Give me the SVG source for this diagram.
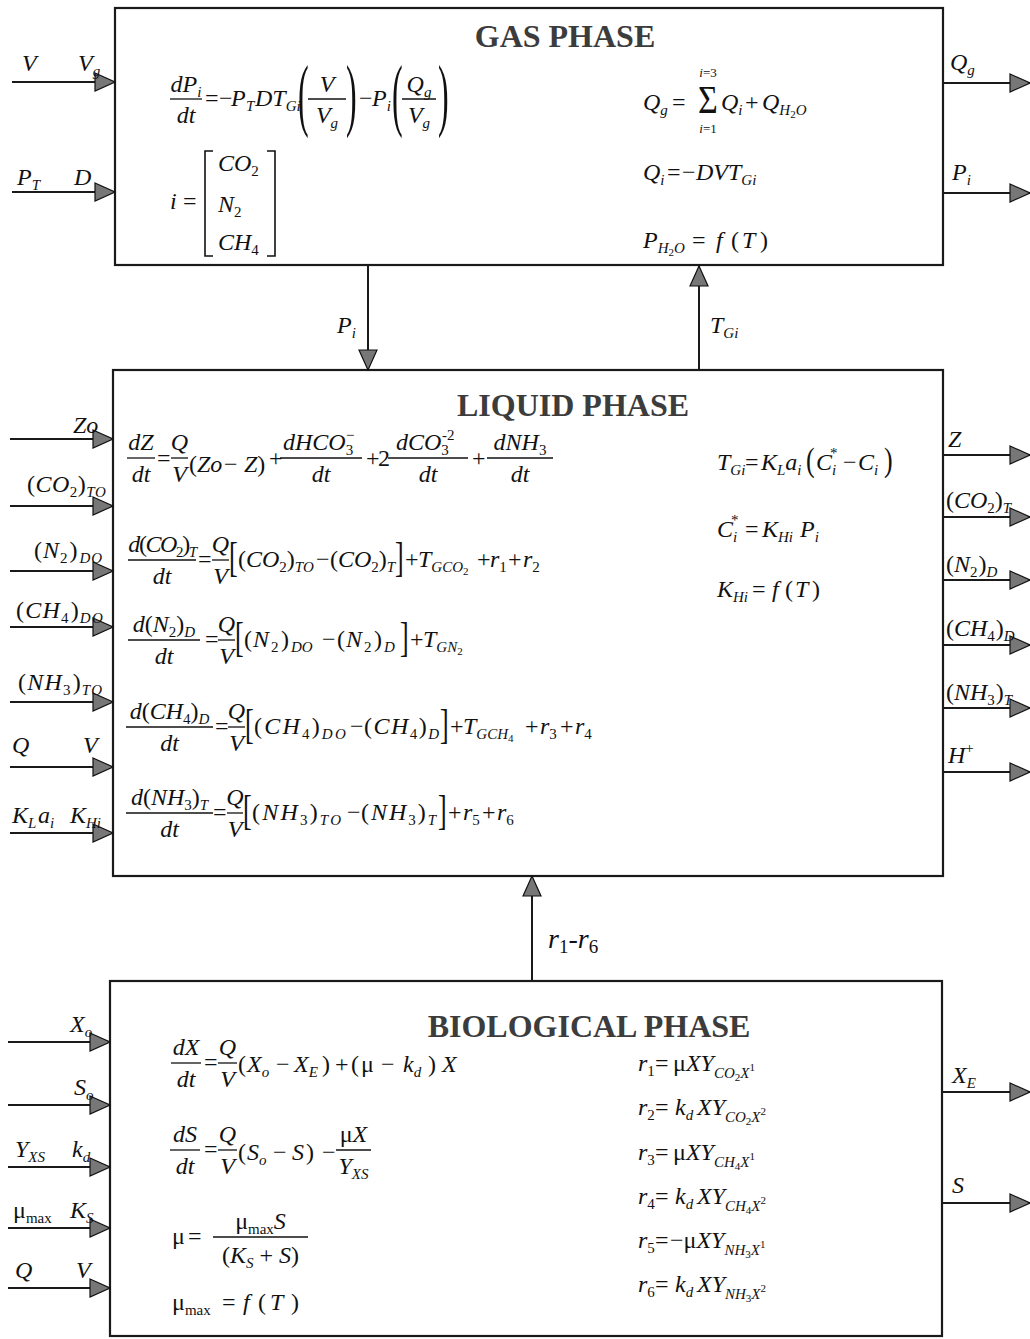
<svg xmlns="http://www.w3.org/2000/svg" width="1030" height="1339" viewBox="0 0 1030 1339">
<style>
text{font-family:"Liberation Serif","Times New Roman",serif;fill:#111}
.e{font-style:italic;font-size:24px}
.u{font-style:normal}
.s{font-size:15px}
.ss{font-size:11px}
.ti{font-weight:bold;font-size:32px;fill:#3c3c3c;font-style:normal}
.box{fill:#fff;stroke:#1a1a1a;stroke-width:2.2}
.fr{stroke:#111;stroke-width:1.3}
.cn{stroke:#1a1a1a;stroke-width:2;fill:none}
.br{fill:none;stroke:#111;stroke-width:1.6}
</style>
<defs>
<marker id="ah" markerWidth="22" markerHeight="20" refX="21" refY="10" orient="auto" markerUnits="userSpaceOnUse"><path d="M1,1 L21,10 L1,19 Z" fill="#777" stroke="#111" stroke-width="1.2"/></marker>
</defs>
<rect width="1030" height="1339" fill="#fff"/>

<g id="gas-phase">
<rect class="box" x="115" y="8" width="828" height="257"/>
<text class="ti" x="565" y="47" text-anchor="middle">GAS PHASE</text>
<line class="fr" x1="170" y1="99" x2="202" y2="99"/>
<text class="e" x="186" y="92" text-anchor="middle">dP<tspan class="s" dy="5">i</tspan></text>
<text class="e" x="186" y="123" text-anchor="middle">dt</text>
<text class="e" y="106"><tspan class="u" x="205">=</tspan><tspan class="u" x="219">−</tspan><tspan x="231">P</tspan><tspan class="s" x="246" dy="5">T</tspan><tspan x="255" dy="-5">DT</tspan><tspan class="s" dy="5">Gi</tspan></text>
<text class="u" font-size="32" transform="translate(298,121) scale(1,2.5)">(</text>
<line class="fr" x1="308" y1="99" x2="346" y2="99"/>
<text class="e" x="327" y="92" text-anchor="middle">V</text>
<text class="e" x="327" y="123" text-anchor="middle">V<tspan class="s" dy="5">g</tspan></text>
<text class="u" font-size="32" transform="translate(346,121) scale(1,2.5)">)</text>
<text class="e" y="106"><tspan class="u" x="359">−</tspan><tspan x="372">P</tspan><tspan class="s" dy="5">i</tspan></text>
<text class="u" font-size="32" transform="translate(392,121) scale(1,2.5)">(</text>
<line class="fr" x1="402" y1="99" x2="436" y2="99"/>
<text class="e" x="419" y="92" text-anchor="middle">Q<tspan class="s" dy="5">g</tspan></text>
<text class="e" x="419" y="123" text-anchor="middle">V<tspan class="s" dy="5">g</tspan></text>
<text class="u" font-size="32" transform="translate(438,121) scale(1,2.5)">)</text>
<text class="e" y="209"><tspan x="170">i</tspan><tspan class="u" x="183">=</tspan></text>
<path class="br" d="M213,151 H205 V256 H213 M267,151 H275 V256 H267"/>
<text class="e" x="218" y="171">CO<tspan class="u s" dy="5">2</tspan></text>
<text class="e" x="218" y="212">N<tspan class="u s" dy="5">2</tspan></text>
<text class="e" x="218" y="250">CH<tspan class="u s" dy="5">4</tspan></text>
<text class="e" y="110"><tspan x="643">Q</tspan><tspan class="s" dy="5">g</tspan><tspan class="u" x="672" dy="-5">=</tspan></text>
<text class="u" font-size="34" transform="translate(698,113) scale(1,1.2)">Σ</text>
<text class="e" style="font-size:13px" x="708" y="77" text-anchor="middle">i<tspan class="u">=3</tspan></text>
<text class="e" style="font-size:13px" x="708" y="133" text-anchor="middle">i<tspan class="u">=1</tspan></text>
<text class="e" y="110"><tspan x="721">Q</tspan><tspan class="s" dy="5">i</tspan><tspan class="u" x="745" dy="-5">+</tspan><tspan x="762">Q</tspan><tspan class="s" dy="5">H</tspan><tspan class="u ss" dy="3">2</tspan><tspan class="s" dy="-3">O</tspan></text>
<text class="e" y="180"><tspan x="643">Q</tspan><tspan class="s" dy="5">i</tspan><tspan class="u" x="667" dy="-5">=</tspan><tspan class="u" x="682">−</tspan><tspan x="696">DVT</tspan><tspan class="s" dy="5">Gi</tspan></text>
<text class="e" y="248"><tspan x="643">P</tspan><tspan class="s" dy="5">H</tspan><tspan class="u ss" dy="3">2</tspan><tspan class="s" dy="-3">O</tspan><tspan class="u" x="692" dy="-5">=</tspan><tspan x="716">f</tspan><tspan class="u" x="731">(</tspan><tspan x="742">T</tspan><tspan class="u" x="760">)</tspan></text>
</g>

<g id="liquid-phase">
<rect class="box" x="113" y="370" width="830" height="506"/>
<text class="ti" x="573" y="416" text-anchor="middle">LIQUID PHASE</text>
<!-- row 1 -->
<line class="fr" x1="127" y1="458" x2="155" y2="458"/>
<text class="e" x="141" y="450" text-anchor="middle">dZ</text>
<text class="e" x="141" y="482" text-anchor="middle">dt</text>
<text class="e u" x="157" y="466">=</text>
<line class="fr" x1="171" y1="458" x2="188" y2="458"/>
<text class="e" x="179.5" y="450" text-anchor="middle">Q</text>
<text class="e" x="179.5" y="482" text-anchor="middle">V</text>
<text class="e" y="472"><tspan class="u" x="189">(</tspan>Zo<tspan class="u" x="224">−</tspan><tspan x="244">Z</tspan><tspan class="u">)</tspan></text>
<text class="e u" x="269" y="466">+</text>
<line class="fr" x1="280" y1="458" x2="362" y2="458"/>
<text class="e" y="450"><tspan x="283">dHCO</tspan><tspan class="u s" dy="5">3</tspan></text>
<text class="u s" x="346" y="440">−</text>
<text class="e" x="321" y="482" text-anchor="middle">dt</text>
<text class="e u" y="466"><tspan x="366">+</tspan><tspan x="378">2</tspan></text>
<line class="fr" x1="388" y1="458" x2="468" y2="458"/>
<text class="e" y="450"><tspan x="396">dCO</tspan><tspan class="u s" dy="5">3</tspan></text>
<text class="u s" x="442" y="440">-2</text>
<text class="e" x="428" y="482" text-anchor="middle">dt</text>
<text class="e u" x="472" y="466">+</text>
<line class="fr" x1="487" y1="458" x2="553" y2="458"/>
<text class="e" x="520" y="450" text-anchor="middle">dNH<tspan class="u s" dy="5">3</tspan></text>
<text class="e" x="520" y="482" text-anchor="middle">dt</text>
<!-- row 2 -->
<line class="fr" x1="128" y1="560" x2="196" y2="560"/>
<text class="e" x="162" y="552" text-anchor="middle" style="letter-spacing:-1.4px">d<tspan class="u">(</tspan>CO<tspan class="u s" dy="5">2</tspan><tspan class="u" dy="-5">)</tspan><tspan class="s" dy="5">T</tspan></text>
<text class="e" x="162" y="584" text-anchor="middle">dt</text>
<text class="e u" x="198" y="567">=</text>
<line class="fr" x1="212" y1="560" x2="229" y2="560"/>
<text class="e" x="220.5" y="552" text-anchor="middle">Q</text>
<text class="e" x="220.5" y="584" text-anchor="middle">V</text>
<text class="u" font-size="26" transform="translate(229,570.5) scale(1,1.6)">[</text>
<text class="e" x="238" y="567"><tspan class="u">(</tspan>CO<tspan class="u s" dy="5">2</tspan><tspan class="u" dy="-5">)</tspan><tspan class="s" dy="5">TO</tspan></text>
<text class="e u" x="316" y="567">−</text>
<text class="e" x="330" y="567"><tspan class="u">(</tspan>CO<tspan class="u s" dy="5">2</tspan><tspan class="u" dy="-5">)</tspan><tspan class="s" dy="5">T</tspan></text>
<text class="u" font-size="26" transform="translate(395,570.5) scale(1,1.6)">]</text>
<text class="e" y="567"><tspan class="u" x="405">+</tspan><tspan x="418">T</tspan><tspan class="s" dy="5">GCO</tspan><tspan class="u ss" dy="3">2</tspan><tspan class="u" x="477" dy="-8">+</tspan><tspan x="490">r</tspan><tspan class="u s" dy="5">1</tspan><tspan class="u" x="508" dy="-5">+</tspan><tspan x="523">r</tspan><tspan class="u s" dy="5">2</tspan></text>
<!-- row 3 -->
<line class="fr" x1="128" y1="640" x2="200" y2="640"/>
<text class="e" x="164" y="632" text-anchor="middle">d<tspan class="u">(</tspan>N<tspan class="u s" dy="5">2</tspan><tspan class="u" dy="-5">)</tspan><tspan class="s" dy="5">D</tspan></text>
<text class="e" x="164" y="664" text-anchor="middle">dt</text>
<text class="e u" x="205" y="647">=</text>
<line class="fr" x1="218" y1="640" x2="235" y2="640"/>
<text class="e" x="226.5" y="632" text-anchor="middle">Q</text>
<text class="e" x="226.5" y="664" text-anchor="middle">V</text>
<text class="u" font-size="26" transform="translate(235,650.5) scale(1,1.6)">[</text>
<text class="e" y="647"><tspan class="u" x="244">(</tspan><tspan x="253">N</tspan><tspan class="u s" x="271" dy="5">2</tspan><tspan class="u" x="281" dy="-5">)</tspan><tspan class="s" x="291" dy="5">DO</tspan></text>
<text class="e u" x="322" y="647">−</text>
<text class="e" y="647"><tspan class="u" x="337">(</tspan><tspan x="346">N</tspan><tspan class="u s" x="364" dy="5">2</tspan><tspan class="u" x="374" dy="-5">)</tspan><tspan class="s" x="384" dy="5">D</tspan></text>
<text class="u" font-size="26" transform="translate(400,650.5) scale(1,1.6)">]</text>
<text class="e" y="647"><tspan class="u" x="410">+</tspan><tspan x="423">T</tspan><tspan class="s" dy="5">GN</tspan><tspan class="u ss" dy="3">2</tspan></text>
<!-- row 4 -->
<line class="fr" x1="126" y1="727" x2="213" y2="727"/>
<text class="e" x="169.5" y="719" text-anchor="middle">d<tspan class="u">(</tspan>CH<tspan class="u s" dy="5">4</tspan><tspan class="u" dy="-5">)</tspan><tspan class="s" dy="5">D</tspan></text>
<text class="e" x="169.5" y="751" text-anchor="middle">dt</text>
<text class="e u" x="215" y="734">=</text>
<line class="fr" x1="228" y1="727" x2="245" y2="727"/>
<text class="e" x="236.5" y="719" text-anchor="middle">Q</text>
<text class="e" x="236.5" y="751" text-anchor="middle">V</text>
<text class="u" font-size="26" transform="translate(245,737.5) scale(1,1.6)">[</text>
<text class="e" x="254" y="734" style="letter-spacing:2.2px"><tspan class="u">(</tspan>CH<tspan class="u s" dy="5">4</tspan><tspan class="u" dy="-5">)</tspan><tspan class="s" dy="5">DO</tspan></text>
<text class="e u" x="350" y="734">−</text>
<text class="e" x="364" y="734" style="letter-spacing:1.5px"><tspan class="u">(</tspan>CH<tspan class="u s" dy="5">4</tspan><tspan class="u" dy="-5">)</tspan><tspan class="s" dy="5">D</tspan></text>
<text class="u" font-size="26" transform="translate(440,737.5) scale(1,1.6)">]</text>
<text class="e" y="734"><tspan class="u" x="450">+</tspan><tspan x="463">T</tspan><tspan class="s" dy="5">GCH</tspan><tspan class="u ss" dy="3">4</tspan><tspan class="u" x="525" dy="-8">+</tspan><tspan x="540">r</tspan><tspan class="u s" dy="5">3</tspan><tspan class="u" x="560" dy="-5">+</tspan><tspan x="575">r</tspan><tspan class="u s" dy="5">4</tspan></text>
<!-- row 5 -->
<line class="fr" x1="126" y1="813" x2="213" y2="813"/>
<text class="e" x="169.5" y="805" text-anchor="middle">d<tspan class="u">(</tspan>NH<tspan class="u s" dy="5">3</tspan><tspan class="u" dy="-5">)</tspan><tspan class="s" dy="5">T</tspan></text>
<text class="e" x="169.5" y="837" text-anchor="middle">dt</text>
<text class="e u" x="213" y="820">=</text>
<line class="fr" x1="227" y1="813" x2="243" y2="813"/>
<text class="e" x="235" y="805" text-anchor="middle">Q</text>
<text class="e" x="235" y="837" text-anchor="middle">V</text>
<text class="u" font-size="26" transform="translate(243,823.5) scale(1,1.6)">[</text>
<text class="e" x="252" y="820" style="letter-spacing:2.2px"><tspan class="u">(</tspan>NH<tspan class="u s" dy="5">3</tspan><tspan class="u" dy="-5">)</tspan><tspan class="s" dy="5">TO</tspan></text>
<text class="e u" x="347" y="820">−</text>
<text class="e" x="361" y="820" style="letter-spacing:2px"><tspan class="u">(</tspan>NH<tspan class="u s" dy="5">3</tspan><tspan class="u" dy="-5">)</tspan><tspan class="s" dy="5">T</tspan></text>
<text class="u" font-size="26" transform="translate(438,823.5) scale(1,1.6)">]</text>
<text class="e" y="820"><tspan class="u" x="448">+</tspan><tspan x="463">r</tspan><tspan class="u s" dy="5">5</tspan><tspan class="u" x="482" dy="-5">+</tspan><tspan x="497">r</tspan><tspan class="u s" dy="5">6</tspan></text>
<!-- right column -->
<text class="e" y="470"><tspan x="717">T</tspan><tspan class="s" dy="5">Gi</tspan><tspan class="u" x="745" dy="-5">=</tspan><tspan x="761">K</tspan><tspan class="s" dy="5">L</tspan><tspan dy="-5">a</tspan><tspan class="s" dy="5">i</tspan></text>
<text class="u" font-size="26" transform="translate(806,471) scale(1,1.32)">(</text>
<text class="e" y="470"><tspan x="816">C</tspan><tspan class="s" dy="5">i</tspan><tspan class="u" x="843" dy="-5">−</tspan><tspan x="858">C</tspan><tspan class="s" dy="5">i</tspan></text>
<text class="u s" x="830" y="458">*</text>
<text class="u" font-size="26" transform="translate(884,471) scale(1,1.32)">)</text>
<text class="e" y="537"><tspan x="717">C</tspan><tspan class="s" dy="5">i</tspan><tspan class="u" x="745" dy="-5">=</tspan><tspan x="762">K</tspan><tspan class="s" dy="5">Hi</tspan><tspan x="800" dy="-5">P</tspan><tspan class="s" dy="5">i</tspan></text>
<text class="u s" x="731" y="525">*</text>
<text class="e" y="597"><tspan x="717">K</tspan><tspan class="s" dy="5">Hi</tspan><tspan class="u" x="752" dy="-5">=</tspan><tspan x="772">f</tspan><tspan class="u" x="785">(</tspan><tspan x="795">T</tspan><tspan class="u" x="812">)</tspan></text>
</g>

<g id="biological-phase">
<rect class="box" x="110" y="981" width="832" height="355"/>
<text class="ti" x="589" y="1037" text-anchor="middle">BIOLOGICAL PHASE</text>
<!-- row 1 -->
<line class="fr" x1="171" y1="1063" x2="201" y2="1063"/>
<text class="e" x="186" y="1055" text-anchor="middle">dX</text>
<text class="e" x="186" y="1087" text-anchor="middle">dt</text>
<text class="e u" x="204" y="1070">=</text>
<line class="fr" x1="218" y1="1063" x2="237" y2="1063"/>
<text class="e" x="227.5" y="1055" text-anchor="middle">Q</text>
<text class="e" x="227.5" y="1087" text-anchor="middle">V</text>
<text class="e" y="1072"><tspan class="u" x="238">(</tspan><tspan x="247">X</tspan><tspan class="s" dy="5">o</tspan><tspan class="u" x="276" dy="-5">−</tspan><tspan x="294">X</tspan><tspan class="s" dy="5">E</tspan><tspan class="u" x="322" dy="-5">)</tspan><tspan class="u" x="335">+</tspan><tspan class="u" x="351">(</tspan><tspan class="u" x="361">μ</tspan><tspan class="u" x="381">−</tspan><tspan x="403">k</tspan><tspan class="s" dy="5">d</tspan><tspan class="u" x="428" dy="-5">)</tspan><tspan x="442">X</tspan></text>
<!-- row 2 -->
<line class="fr" x1="170" y1="1150" x2="200" y2="1150"/>
<text class="e" x="185" y="1142" text-anchor="middle">dS</text>
<text class="e" x="185" y="1174" text-anchor="middle">dt</text>
<text class="e u" x="204" y="1157">=</text>
<line class="fr" x1="218" y1="1150" x2="237" y2="1150"/>
<text class="e" x="227.5" y="1142" text-anchor="middle">Q</text>
<text class="e" x="227.5" y="1174" text-anchor="middle">V</text>
<text class="e" y="1160"><tspan class="u" x="238">(</tspan><tspan x="247">S</tspan><tspan class="s" dy="5">o</tspan><tspan class="u" x="273" dy="-5">−</tspan><tspan x="292">S</tspan><tspan class="u" x="306">)</tspan><tspan class="u" x="322">−</tspan></text>
<line class="fr" x1="336" y1="1150" x2="371" y2="1150"/>
<text class="e" x="353.5" y="1142" text-anchor="middle"><tspan class="u">μ</tspan>X</text>
<text class="e" x="353.5" y="1174" text-anchor="middle">Y<tspan class="s" dy="5">XS</tspan></text>
<!-- row 3 -->
<text class="e u" y="1244"><tspan x="172">μ</tspan><tspan x="188">=</tspan></text>
<line class="fr" x1="213" y1="1237" x2="308" y2="1237"/>
<text class="e" x="260.5" y="1229" text-anchor="middle"><tspan class="u">μ</tspan><tspan class="u s" dy="5">max</tspan><tspan dy="-5">S</tspan></text>
<text class="e" x="260.5" y="1263" text-anchor="middle"><tspan class="u">(</tspan>K<tspan class="s" dy="5">S</tspan><tspan class="u" dy="-5"> + </tspan>S<tspan class="u">)</tspan></text>
<!-- row 4 -->
<text class="e" y="1310"><tspan class="u" x="172">μ</tspan><tspan class="u s" dy="5">max</tspan><tspan class="u" x="222" dy="-5">=</tspan><tspan x="243">f</tspan><tspan class="u" x="258">(</tspan><tspan x="270">T</tspan><tspan class="u" x="291">)</tspan></text>
<!-- right column -->
<text class="e" y="1071"><tspan x="638">r</tspan><tspan class="u s" dy="5">1</tspan><tspan class="u" x="655" dy="-5">=</tspan><tspan class="u" x="673">μ</tspan>XY<tspan class="s" dy="7">CO</tspan><tspan class="u ss" dy="3">2</tspan><tspan class="s" dy="-3">X</tspan><tspan class="u ss" dy="-7">1</tspan></text>
<text class="e" y="1115"><tspan x="638">r</tspan><tspan class="u s" dy="5">2</tspan><tspan class="u" x="655" dy="-5">=</tspan><tspan x="675">k</tspan><tspan class="s" dy="5">d</tspan><tspan x="697" dy="-5">XY</tspan><tspan class="s" dy="7">CO</tspan><tspan class="u ss" dy="3">2</tspan><tspan class="s" dy="-3">X</tspan><tspan class="u ss" dy="-7">2</tspan></text>
<text class="e" y="1160"><tspan x="638">r</tspan><tspan class="u s" dy="5">3</tspan><tspan class="u" x="655" dy="-5">=</tspan><tspan class="u" x="673">μ</tspan>XY<tspan class="s" dy="7">CH</tspan><tspan class="u ss" dy="3">4</tspan><tspan class="s" dy="-3">X</tspan><tspan class="u ss" dy="-7">1</tspan></text>
<text class="e" y="1204"><tspan x="638">r</tspan><tspan class="u s" dy="5">4</tspan><tspan class="u" x="655" dy="-5">=</tspan><tspan x="675">k</tspan><tspan class="s" dy="5">d</tspan><tspan x="697" dy="-5">XY</tspan><tspan class="s" dy="7">CH</tspan><tspan class="u ss" dy="3">4</tspan><tspan class="s" dy="-3">X</tspan><tspan class="u ss" dy="-7">2</tspan></text>
<text class="e" y="1248"><tspan x="638">r</tspan><tspan class="u s" dy="5">5</tspan><tspan class="u" x="655" dy="-5">=</tspan><tspan class="u" x="670">−μ</tspan>XY<tspan class="s" dy="7">NH</tspan><tspan class="u ss" dy="3">3</tspan><tspan class="s" dy="-3">X</tspan><tspan class="u ss" dy="-7">1</tspan></text>
<text class="e" y="1292"><tspan x="638">r</tspan><tspan class="u s" dy="5">6</tspan><tspan class="u" x="655" dy="-5">=</tspan><tspan x="675">k</tspan><tspan class="s" dy="5">d</tspan><tspan x="697" dy="-5">XY</tspan><tspan class="s" dy="7">NH</tspan><tspan class="u ss" dy="3">3</tspan><tspan class="s" dy="-3">X</tspan><tspan class="u ss" dy="-7">2</tspan></text>
</g>

<g id="connectors">
<!-- gas inputs / outputs -->
<line class="cn" x1="12" y1="82" x2="115" y2="82" marker-end="url(#ah)"/>
<line class="cn" x1="12" y1="192" x2="115" y2="192" marker-end="url(#ah)"/>
<line class="cn" x1="943" y1="83" x2="1030" y2="83" marker-end="url(#ah)"/>
<line class="cn" x1="943" y1="193" x2="1030" y2="193" marker-end="url(#ah)"/>
<text class="e" x="22" y="71">V</text>
<text class="e" x="78" y="71">V<tspan class="s" dy="5">g</tspan></text>
<text class="e" x="17" y="185">P<tspan class="s" dy="5">T</tspan></text>
<text class="e" x="74" y="185">D</text>
<text class="e" x="950" y="70">Q<tspan class="s" dy="5">g</tspan></text>
<text class="e" x="952" y="180">P<tspan class="s" dy="5">i</tspan></text>
<!-- gas <-> liquid -->
<line class="cn" x1="368" y1="266" x2="368" y2="370" marker-end="url(#ah)"/>
<line class="cn" x1="699" y1="370" x2="699" y2="266" marker-end="url(#ah)"/>
<text class="e" x="337" y="333">P<tspan class="s" dy="5">i</tspan></text>
<text class="e" x="710" y="333">T<tspan class="s" dy="5">Gi</tspan></text>
<!-- liquid inputs -->
<line class="cn" x1="10" y1="439" x2="113" y2="439" marker-end="url(#ah)"/>
<line class="cn" x1="10" y1="506" x2="113" y2="506" marker-end="url(#ah)"/>
<line class="cn" x1="10" y1="571" x2="113" y2="571" marker-end="url(#ah)"/>
<line class="cn" x1="10" y1="627" x2="113" y2="627" marker-end="url(#ah)"/>
<line class="cn" x1="10" y1="702" x2="113" y2="702" marker-end="url(#ah)"/>
<line class="cn" x1="10" y1="767" x2="113" y2="767" marker-end="url(#ah)"/>
<line class="cn" x1="10" y1="833" x2="113" y2="833" marker-end="url(#ah)"/>
<text class="e" x="73" y="433">Zo</text>
<text class="e" x="27" y="492" style="letter-spacing:0.5px"><tspan class="u">(</tspan>CO<tspan class="u s" dy="5">2</tspan><tspan class="u" dy="-5">)</tspan><tspan class="s" dy="5">TO</tspan></text>
<text class="e" x="34" y="558" style="letter-spacing:1px"><tspan class="u">(</tspan>N<tspan class="u s" dy="5">2</tspan><tspan class="u" dx="1" dy="-5">)</tspan><tspan class="s" dx="1" dy="5">DO</tspan></text>
<text class="e" x="16" y="618" style="letter-spacing:1.2px"><tspan class="u">(</tspan>CH<tspan class="u s" dy="5">4</tspan><tspan class="u" dx="1" dy="-5">)</tspan><tspan class="s" dy="5">DO</tspan></text>
<text class="e" x="18" y="690" style="letter-spacing:1.2px"><tspan class="u">(</tspan>NH<tspan class="u s" dy="5">3</tspan><tspan class="u" dx="1" dy="-5">)</tspan><tspan class="s" dy="5">TO</tspan></text>
<text class="e" x="12" y="753">Q</text>
<text class="e" x="83" y="753">V</text>
<text class="e" y="823"><tspan x="12">K</tspan><tspan class="s" dy="5">L</tspan><tspan x="38" dy="-5">a</tspan><tspan class="s" dy="5">i</tspan><tspan x="70" dy="-5">K</tspan><tspan class="s" dy="5">Hi</tspan></text>
<!-- liquid outputs -->
<line class="cn" x1="943" y1="455" x2="1030" y2="455" marker-end="url(#ah)"/>
<line class="cn" x1="943" y1="517" x2="1030" y2="517" marker-end="url(#ah)"/>
<line class="cn" x1="943" y1="580" x2="1030" y2="580" marker-end="url(#ah)"/>
<line class="cn" x1="943" y1="645" x2="1030" y2="645" marker-end="url(#ah)"/>
<line class="cn" x1="943" y1="708" x2="1030" y2="708" marker-end="url(#ah)"/>
<line class="cn" x1="943" y1="772" x2="1030" y2="772" marker-end="url(#ah)"/>
<text class="e" x="948" y="447">Z</text>
<text class="e" x="946" y="508"><tspan class="u">(</tspan>CO<tspan class="u s" dy="5">2</tspan><tspan class="u" dy="-5">)</tspan><tspan class="s" dy="5">T</tspan></text>
<text class="e" x="946" y="572"><tspan class="u">(</tspan>N<tspan class="u s" dy="5">2</tspan><tspan class="u" dx="1" dy="-5">)</tspan><tspan class="s" dy="5">D</tspan></text>
<text class="e" x="946" y="636"><tspan class="u">(</tspan>CH<tspan class="u s" dy="5">4</tspan><tspan class="u" dx="1" dy="-5">)</tspan><tspan class="s" dy="5">D</tspan></text>
<text class="e" x="946" y="700"><tspan class="u">(</tspan>NH<tspan class="u s" dy="5">3</tspan><tspan class="u" dx="1" dy="-5">)</tspan><tspan class="s" dy="5">T</tspan></text>
<text class="e" x="948" y="763">H<tspan class="u s" dy="-10">+</tspan></text>
<!-- bio -> liquid -->
<line class="cn" x1="532" y1="981" x2="532" y2="876" marker-end="url(#ah)"/>
<text class="e" style="font-size:28px" x="548" y="948">r<tspan class="u" style="font-size:19px" dy="5">1</tspan><tspan class="u" dy="-5">-</tspan>r<tspan class="u" style="font-size:19px" dy="5">6</tspan></text>
<!-- bio inputs -->
<line class="cn" x1="8" y1="1042" x2="110" y2="1042" marker-end="url(#ah)"/>
<line class="cn" x1="8" y1="1105" x2="110" y2="1105" marker-end="url(#ah)"/>
<line class="cn" x1="8" y1="1167" x2="110" y2="1167" marker-end="url(#ah)"/>
<line class="cn" x1="8" y1="1228" x2="110" y2="1228" marker-end="url(#ah)"/>
<line class="cn" x1="8" y1="1288" x2="110" y2="1288" marker-end="url(#ah)"/>
<text class="e" x="70" y="1032">X<tspan class="s" dy="5">o</tspan></text>
<text class="e" x="74" y="1095">S<tspan class="s" dy="5">o</tspan></text>
<text class="e" x="15" y="1157">Y<tspan class="s" dy="5">XS</tspan></text>
<text class="e" x="72" y="1157">k<tspan class="s" dy="5">d</tspan></text>
<text class="e" x="13" y="1218"><tspan class="u">μ</tspan><tspan class="u s" dy="5">max</tspan></text>
<text class="e" x="70" y="1218">K<tspan class="s" dy="5">S</tspan></text>
<text class="e" x="15" y="1278">Q</text>
<text class="e" x="76" y="1278">V</text>
<!-- bio outputs -->
<line class="cn" x1="942" y1="1092" x2="1030" y2="1092" marker-end="url(#ah)"/>
<line class="cn" x1="942" y1="1203" x2="1030" y2="1203" marker-end="url(#ah)"/>
<text class="e" x="952" y="1083">X<tspan class="s" dy="5">E</tspan></text>
<text class="e" x="952" y="1193">S</text>
</g>
</svg>
